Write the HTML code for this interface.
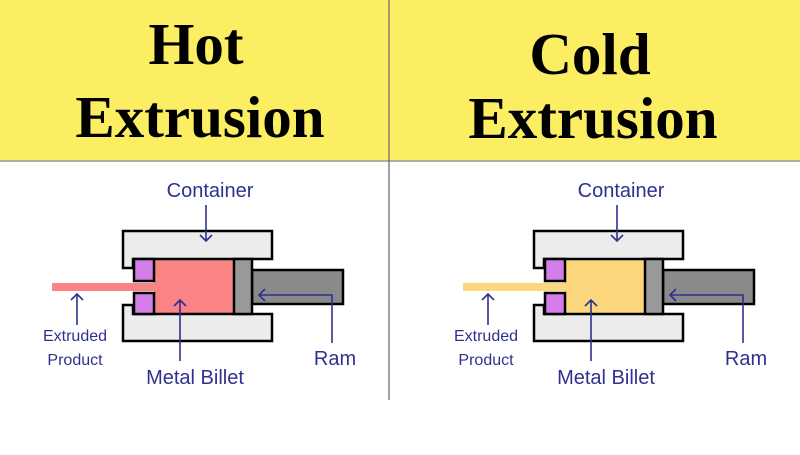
<!DOCTYPE html><html><head><style>body{margin:0;width:800px;height:450px;overflow:hidden;background:#fff}</style></head><body>
<svg width="800" height="450" xmlns="http://www.w3.org/2000/svg">
<rect x="0" y="0" width="800" height="161" fill="#fbee63"/>
<line x1="0" y1="161" x2="800" y2="161" stroke="#999" stroke-width="1.5"/>
<line x1="389" y1="0" x2="389" y2="400" stroke="#666" stroke-width="1.2"/>
<g font-family="Liberation Serif, serif" font-weight="bold" font-size="59" text-anchor="middle" fill="#000">
<text x="196" y="64">Hot</text><text x="200" y="137">Extrusion</text>
<text x="590" y="74">Cold</text><text x="593" y="138">Extrusion</text>
</g>
<defs>
<g id="d">
<path d="M123,231H272V259H133V268H123Z" fill="#ececec" stroke="#000" stroke-width="2.5"/>
<path d="M123,341H272V314H133V305H123Z" fill="#ececec" stroke="#000" stroke-width="2.5"/>
<rect x="252" y="270" width="91" height="34" fill="#8a8a8a" stroke="#000" stroke-width="2.5"/>
<rect x="234" y="259" width="18" height="55" fill="#999" stroke="#000" stroke-width="2.5"/>
<rect x="134" y="259" width="20" height="22" fill="#d27de8" stroke="#000" stroke-width="2.5"/>
<rect x="134" y="293" width="20" height="21" fill="#d27de8" stroke="#000" stroke-width="2.5"/>
<g stroke="#2e3190" stroke-width="1.6" fill="none">
<path d="M206,205V241M200,235L206,241L212,235"/>
<path d="M180,361V300M174,306L180,300L186,306"/>
<path d="M77,325V294M71,300L77,294L83,300"/>
<path d="M332,343V295H259M265,289L259,295L265,301"/>
</g>
<g font-family="Liberation Sans, sans-serif" fill="#2e3190" text-anchor="middle">
<text x="210" y="197" font-size="20">Container</text>
<text x="75" y="341" font-size="16">Extruded</text>
<text x="75" y="365" font-size="16">Product</text>
<text x="195" y="384" font-size="20">Metal Billet</text>
<text x="335" y="365" font-size="20">Ram</text>
</g>
</g>
</defs>
<rect x="154" y="259" width="80" height="55" fill="#f98385"/>
<rect x="52" y="283" width="102" height="8" fill="#f98385"/>
<use href="#d"/>
<rect x="565" y="259" width="80" height="55" fill="#fdd77e"/>
<rect x="463" y="283" width="102" height="8" fill="#fdd77e"/>
<use href="#d" transform="translate(411,0)"/>
</svg>
</body></html>
